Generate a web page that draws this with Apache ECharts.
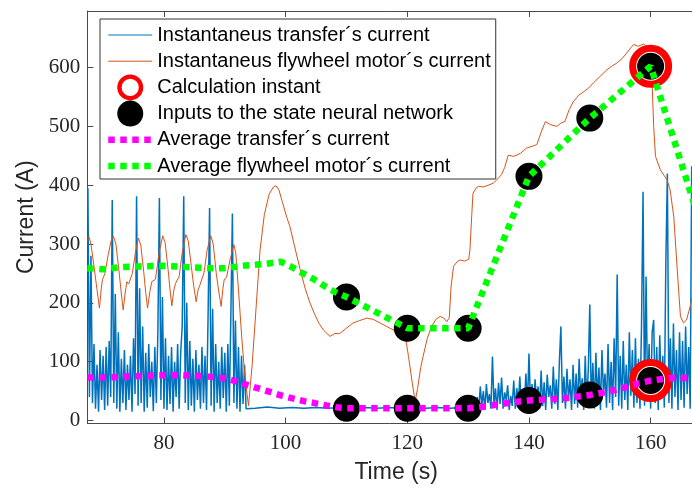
<!DOCTYPE html>
<html>
<head>
<meta charset="utf-8">
<script src="https://cdn.jsdelivr.net/npm/echarts@6/dist/echarts.min.js"></script>
<style>
html,body{margin:0;padding:0;background:#fff;}
#chart{width:692px;height:490px;}
</style>
</head>
<body>
<div id="chart"></div>
<script>
// ---- tick labels ----
const xTicks = [80, 100, 120, 140, 160];
const yTicks = [0, 100, 200, 300, 400, 500, 600];

// ---- instantaneous transfer current (blue) ----
const blueAStart = 67.5, blueAStep = 0.25;
const blueA = [395,40,280,30,130,20,95,15,120,35,110,18,125,25,135,40,375,30,215,20,150,15,105,30,120,18,95,35,110,15,140,45,381,25,225,30,160,15,115,22,130,40,100,16,125,30,150,378,35,210,20,140,18,110,28,125,15,100,40,130,20,115,160,381,30,200,18,135,25,105,15,120,35,95,20,125,30,110,18,175,361,25,190,15,130,30,100,20,125,38,115,15,130,25,180,352,30,170,20,125,15,110,28,95,20];
const blueBT = [93.75,95,97,99,101,103,105,107,109,111,113,115,117,119,121,123,125,127,129,130.75];
const blueBV = [22,21,23,21,22,21,22,21,22,21,22,21,22,21,22,21,22,21,22,23];
const blueCStart = 131.0, blueCStep = 0.25;
const blueC = [22,24,40,20,58,25,50,18,62,30,45,20,109,25,55,18,64,28,73,20,48,35,60,18,42,25,68,20,55,30,75,18,50,28,80,22,114,30,62,18,70,35,58,20,85,25,65,18,78,40,60,20,92,28,70,18,100,160,30,75,20,88,35,70,18,95,28,80,22,105,40,72,18,110,30,85,197,25,98,20,115,35,90,18,120,45,80,22,130,30,100,18,140,40,248,25,110,20,135,35,95,18,150,42,120,22,140,30,105,20,160,389,25,245,40,130,20,150,171,30,125,18,145,45,110,22,268,420,30,140,20,165,40,120,18,150,35,135,22,160,45,125,20,432];

// ---- instantaneous flywheel motor current (orange) ----
const orangeT = [67.4,67.7,68.0,68.5,69.0,69.4,69.7,69.9,70.3,70.8,71.3,71.7,72.1,72.6,73.0,73.3,73.6,73.9,74.2,74.4,74.8,75.3,75.8,76.2,76.7,77.0,77.3,77.7,78.0,78.3,78.6,79.2,79.8,80.2,80.7,81.0,81.3,81.6,81.9,82.2,82.5,83.0,83.6,84.0,84.5,84.9,85.3,85.6,85.9,86.2,86.6,87.1,87.7,88.1,88.6,89.0,89.4,89.7,89.9,90.3,90.9,91.5,91.8,92.3,92.8,93.3,93.9,94.5,95.2,95.8,96.5,97.3,98.0,98.4,98.9,99.5,100.2,100.7,101.5,102.4,103.2,104.0,104.8,105.5,106.2,107.3,108.1,108.9,110.0,111.1,112.2,113.3,114.4,115.5,116.6,117.7,118.6,119.4,119.8,120.2,120.8,121.3,121.7,122.2,122.6,123.3,124.0,124.7,125.4,126.0,126.5,126.9,127.2,127.6,128.2,128.7,129.4,130.1,130.3,130.6,130.8,131.3,131.7,132.5,133.6,134.2,134.7,135.5,136.0,136.6,137.5,138.6,139.6,140.5,141.3,142.0,142.7,143.5,144.6,145.3,145.9,146.6,147.3,148.1,149.0,149.8,150.6,151.7,152.8,153.6,154.5,155.3,156.1,156.7,157.2,158.0,158.8,159.4,159.8,160.2,160.5,160.8,161.6,162.7,163.2,163.8,164.3,164.9,165.4,165.9,166.5,167.2];
const orangeV = [305,312,300,262,222,191,225,240,250,280,305,313,300,255,215,188,215,236,232,229,250,285,310,298,250,218,191,220,236,233,240,285,314,302,255,222,195,220,233,231,245,285,316,305,262,228,202,222,230,228,252,290,314,300,250,220,194,225,239,244,275,299,285,215,140,75,25,95,200,290,350,385,397,399,392,370,345,330,295,256,225,200,180,165,154,143,148,148,157,166,170,174,172,166,160,154,151,148,135,109,65,33,55,90,109,140,160,172,177,174,168,175,228,262,270,273,271,274,290,350,386,395,398,397,401,404,409,418,430,451,449,454,463,466,469,490,508,503,500,506,508,528,542,552,559,565,574,585,596,602,608,615,625,633,639,636,640,636,625,585,500,449,426,409,392,347,268,177,166,171,194,225];

// ---- averages ----
const magT = [67.4,70,75,79,83,87,90,91.6,93.5,95.4,97.3,99.5,101,103,104.8,106.5,108.7,110,120,130,132,134,136,138,140,143,146,150,153,156,158,160,163,167.2];
const magV = [73,73,75,77,77,75,72,67.5,61,55,49,42,38,33,29.6,26,22,21,21,21,23,26,29,32,34,36,38,43.5,49,57,63,68,72,73];
const greenT = [67.4,70,73,76,80,83.5,87.7,90,93,96.5,99.2,101,102.5,104.5,106.5,108,110,120,130,140,150,160,167.2];
const greenV = [259,257,261,262,263,261,259,259,263,266,270,261,252,241,228,219,210,157,157,415,514,602,367];

// ---- markers ----
const inputT = [110,120,130,140,150,160,110,120,130,140,150,160];
const inputV = [210,157,157,415,514,602,21,21,21,34,43.5,68];
const calcT = [160,160];
const calcV = [602,68];

const names = ['Instantaneus transfer´s current','Instantaneus flywheel motor´s current','Calculation instant','Inputs to the state neural network','Average transfer´s current','Average flywheel motor´s current'];

const zip = (t, v) => t.map((x, i) => [x, v[i]]);
const blueData = [];
blueA.forEach((v, i) => blueData.push([blueAStart + i * blueAStep, v]));
blueBT.forEach((t, i) => blueData.push([t, blueBV[i]]));
blueC.forEach((v, i) => blueData.push([blueCStart + i * blueCStep, v]));

const axisCol = '#4a4a4a';
const noSym = {opacity: 0};
const ringIcon = 'path://M2,1A1,1,0,1,1,0,1A1,1,0,1,1,2,1ZM1.66,1A0.66,0.66,0,1,0,0.34,1A0.66,0.66,0,1,0,1.66,1Z';
const chart = echarts.init(document.getElementById('chart'), null, {renderer: 'canvas'});
chart.setOption({
  animation: false,
  backgroundColor: '#fff',
  grid: {left: 87.3, right: 0, top: 11, bottom: 66.5},
  legend: {
    left: 100, top: 19, orient: 'vertical',
    padding: [3, 5, 0, 5],
    itemWidth: 44, itemHeight: 26, itemGap: 0.2,
    backgroundColor: '#fff', borderColor: '#333', borderWidth: 1,
    selectedMode: false,
    textStyle: {fontFamily: 'Liberation Sans', fontSize: 20, lineHeight: 26, color: '#000'},
    data: [
      {name: names[0], itemStyle: noSym, lineStyle: {width: 1}},
      {name: names[1], itemStyle: noSym, lineStyle: {width: 1}},
      {name: names[2], icon: ringIcon, itemStyle: {color: '#ff0000', borderWidth: 0, opacity: 1}},
      {name: names[3], icon: 'circle', itemStyle: {color: '#000', borderWidth: 0, opacity: 1}},
      {name: names[4], itemStyle: noSym, lineStyle: {width: 6.5}},
      {name: names[5], itemStyle: noSym, lineStyle: {width: 6.5}}
    ]
  },
  xAxis: [{
    type: 'value', min: 67.4, max: 166.8, position: 'bottom',
    axisLine: {show: true, onZero: false, lineStyle: {color: axisCol, width: 1}},
    axisTick: {show: true, inside: true, length: 6, customValues: xTicks, lineStyle: {color: axisCol}},
    axisLabel: {customValues: xTicks, fontFamily: 'Liberation Serif', fontSize: 21, color: '#262626', margin: 9},
    splitLine: {show: false},
    name: 'Time (s)', nameLocation: 'middle', nameGap: 38,
    nameTextStyle: {fontFamily: 'Liberation Sans', fontSize: 23, color: '#262626', padding: [0, 0, 0, 13]}
  }, {
    type: 'value', min: 67.4, max: 166.8, position: 'top',
    axisLine: {show: true, onZero: false, lineStyle: {color: axisCol, width: 1}},
    axisTick: {show: true, inside: true, length: 6, customValues: xTicks, lineStyle: {color: axisCol}},
    axisLabel: {show: false},
    splitLine: {show: false}
  }],
  yAxis: {
    type: 'value', min: -5, max: 696,
    axisLine: {show: true, onZero: false, lineStyle: {color: axisCol, width: 1}},
    axisTick: {show: true, inside: true, length: 6, customValues: yTicks, lineStyle: {color: axisCol}},
    axisLabel: {customValues: yTicks, fontFamily: 'Liberation Serif', fontSize: 21, color: '#262626', margin: 7},
    splitLine: {show: false},
    name: 'Current (A)', nameLocation: 'middle', nameGap: 47,
    nameTextStyle: {fontFamily: 'Liberation Sans', fontSize: 23, color: '#262626'}
  },
  series: [
    {name: names[0], type: 'line', z: 2, data: blueData, symbol: 'none', lineStyle: {color: '#0072BD', width: 1.5}, itemStyle: {color: '#0072BD'}},
    {name: names[1], type: 'line', z: 2, data: zip(orangeT, orangeV), symbol: 'none', lineStyle: {color: '#D95319', width: 1}, itemStyle: {color: '#D95319'}},
    {name: names[2], type: 'scatter', z: 3, symbolKeepAspect: true, data: zip(calcT, calcV), symbol: 'circle', symbolSize: 36, itemStyle: {color: '#fff', borderColor: '#ff0000', borderWidth: 7, opacity: 1}},
    {name: names[3], type: 'scatter', z: 4, symbolKeepAspect: true, data: zip(inputT, inputV), symbol: 'circle', symbolSize: 27, itemStyle: {color: '#000', opacity: 1}},
    {name: names[4], type: 'line', z: 5, data: zip(magT, magV), symbol: 'none', lineStyle: {color: '#FF00FF', width: 6.5, type: [6.5, 5.5], cap: 'butt'}, itemStyle: {color: '#FF00FF'}},
    {name: names[5], type: 'line', z: 6, data: zip(greenT, greenV), symbol: 'none', lineStyle: {color: '#00FF00', width: 6.5, type: [6.5, 5.5], cap: 'butt'}, itemStyle: {color: '#00FF00'}}
  ]
});
</script>
</body>
</html>
